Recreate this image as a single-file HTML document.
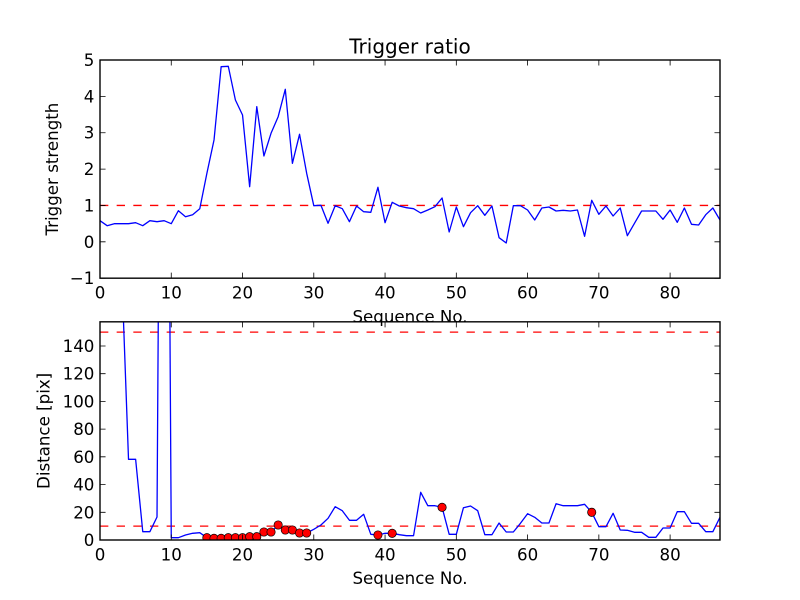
<!DOCTYPE html>
<html><head><meta charset="utf-8"><style>
html,body{margin:0;padding:0;background:#fff;}
svg{display:block;}
text{font-family:"DejaVu Sans","Liberation Sans",sans-serif;fill:#000;}
</style></head><body>
<svg width="800" height="600" viewBox="0 0 800 600" xmlns="http://www.w3.org/2000/svg">
<defs>
<clipPath id="c1"><rect x="100" y="60" width="620" height="218.18"/></clipPath>
<clipPath id="c2"><rect x="100" y="321.82" width="620" height="218.18"/></clipPath>
</defs>
<rect width="800" height="600" fill="#fff"/>

<!-- TOP PLOT -->
<g clip-path="url(#c1)">
<line x1="100" y1="205.45" x2="720" y2="205.45" stroke="#ff0000" stroke-width="1.3" stroke-dasharray="8.33 8.33"/>
<polyline fill="none" stroke="#0000ff" stroke-width="1.3" stroke-linejoin="round" points="100,220.7 107.13,225.7 114.25,223.7 121.38,223.7 128.51,223.7 135.63,222.7 142.76,225.7 149.88,220.7 157.01,221.7 164.14,220.7 171.26,223.7 178.39,210.7 185.52,216.7 192.64,214.7 199.77,208.7 206.9,173.3 214.02,140 221.15,66.7 228.28,66.3 235.4,100 242.53,115 249.65,186.7 256.78,106.7 263.91,156 271.03,133.3 278.16,116.7 285.29,89.3 292.41,163.3 299.54,134.3 306.67,173.3 313.79,205.7 320.92,205.3 328.05,223.3 335.17,205.7 342.3,208.7 349.42,221.7 356.55,206 363.68,211.7 370.8,212.3 377.93,187.3 385.06,222.7 392.18,202.3 399.31,206 406.44,207.7 413.56,208.7 420.69,213 427.81,210 434.94,206.7 442.07,198 449.19,232 456.32,207 463.45,226.7 470.57,212.7 477.7,205.7 484.83,215.3 491.95,206 499.08,237.7 506.21,243 513.33,205.7 520.46,205.7 527.58,210 534.71,220 541.84,208 548.96,207 556.09,211 563.22,210.3 570.34,211 577.47,210 584.6,236.3 591.72,200.3 598.85,214.3 605.97,206 613.1,216 620.23,208 627.35,235.7 634.48,223.3 641.61,211 648.73,211 655.86,211 662.99,219.3 670.11,210 677.24,222.3 684.37,208 691.49,224.3 698.62,225 705.75,214.7 712.87,208 720,220"/>
</g>
<rect x="100" y="60" width="620" height="218.18" fill="none" stroke="#000" stroke-width="1.39"/>
<g stroke="#000" stroke-width="0.8">
<!-- x ticks bottom/top -->
<path d="M100,278.18v-5.56M171.26,278.18v-5.56M242.53,278.18v-5.56M313.79,278.18v-5.56M385.06,278.18v-5.56M456.32,278.18v-5.56M527.58,278.18v-5.56M598.85,278.18v-5.56M670.11,278.18v-5.56"/>
<path d="M100,60v5.56M171.26,60v5.56M242.53,60v5.56M313.79,60v5.56M385.06,60v5.56M456.32,60v5.56M527.58,60v5.56M598.85,60v5.56M670.11,60v5.56"/>
<!-- y ticks left/right -->
<path d="M100,60h5.56M100,96.36h5.56M100,132.73h5.56M100,169.09h5.56M100,205.45h5.56M100,241.82h5.56M100,278.18h5.56"/>
<path d="M720,60h-5.56M720,96.36h-5.56M720,132.73h-5.56M720,169.09h-5.56M720,205.45h-5.56M720,241.82h-5.56M720,278.18h-5.56"/>
</g>
<g font-size="16.67" text-anchor="middle">
<text x="100" y="298.5">0</text>
<text x="171.26" y="298.5">10</text>
<text x="242.53" y="298.5">20</text>
<text x="313.79" y="298.5">30</text>
<text x="385.06" y="298.5">40</text>
<text x="456.32" y="298.5">50</text>
<text x="527.58" y="298.5">60</text>
<text x="598.85" y="298.5">70</text>
<text x="670.11" y="298.5">80</text>
</g>
<g font-size="16.67" text-anchor="end">
<text x="94.4" y="66">5</text>
<text x="94.4" y="102.4">4</text>
<text x="94.4" y="138.7">3</text>
<text x="94.4" y="175.1">2</text>
<text x="94.4" y="211.5">1</text>
<text x="94.4" y="247.8">0</text>
<text x="94.4" y="284.2">−1</text>
</g>
<text x="410" y="53.6" font-size="20" text-anchor="middle">Trigger ratio</text>
<text x="410" y="322.3" font-size="16.67" text-anchor="middle">Sequence No.</text>
<text x="0" y="0" font-size="16.67" text-anchor="middle" transform="translate(58.2,169.1) rotate(-90)">Trigger strength</text>

<!-- BOTTOM PLOT -->
<g clip-path="url(#c2)">
<line x1="100" y1="332.1" x2="720" y2="332.1" stroke="#ff0000" stroke-width="1.3" stroke-dasharray="8.33 8.33"/>
<line x1="100" y1="526.14" x2="720" y2="526.14" stroke="#ff0000" stroke-width="1.3" stroke-dasharray="8.33 8.33"/>
<polyline fill="none" stroke="#0000ff" stroke-width="1.3" stroke-linejoin="round" points="100,200 107.13,200 114.25,200 121.38,263 128.51,459.3 135.63,459.3 142.76,531.7 149.88,531.7 157.01,517 164.14,-600 171.26,537.7 178.39,537.7 185.52,535 192.64,533.3 199.77,532.7 206.9,537.7 214.02,538.3 221.15,538.3 228.28,537.7 235.4,537.7 242.53,537.7 249.65,536.7 256.78,536.7 263.91,532 271.03,532 278.16,525 285.29,530 292.41,530 299.54,533 306.67,533 313.79,529.3 320.92,525 328.05,518.3 335.17,506.7 342.3,510.7 349.42,520.3 356.55,520.3 363.68,514.3 370.8,534.3 377.93,535 385.06,533.3 392.18,533.3 399.31,534.7 406.44,535.7 413.56,535.7 420.69,492.3 427.81,505.7 434.94,505.7 442.07,507.3 449.19,534.3 456.32,534.3 463.45,507.7 470.57,506 477.7,510.7 484.83,534.7 491.95,534.7 499.08,523 506.21,532 513.33,532 520.46,523.3 527.58,513.7 534.71,517.3 541.84,523 548.96,523 556.09,503.7 563.22,505.7 570.34,505.7 577.47,505.7 584.6,504.3 591.72,512.3 598.85,526.7 605.97,526.7 613.1,513.3 620.23,530 627.35,530.3 634.48,532.3 641.61,532.3 648.73,537.3 655.86,537.3 662.99,528 670.11,528 677.24,511.7 684.37,511.7 691.49,523.3 698.62,523.3 705.75,531.7 712.87,531.7 720,517.3"/>
<g fill="#ff0000" stroke="#000" stroke-width="0.7">
<circle cx="206.9" cy="537.7" r="4.17"/>
<circle cx="214.02" cy="538.3" r="4.17"/>
<circle cx="221.15" cy="538.3" r="4.17"/>
<circle cx="228.28" cy="537.7" r="4.17"/>
<circle cx="235.4" cy="537.7" r="4.17"/>
<circle cx="242.53" cy="537.7" r="4.17"/>
<circle cx="249.65" cy="536.7" r="4.17"/>
<circle cx="256.78" cy="536.7" r="4.17"/>
<circle cx="263.91" cy="532" r="4.17"/>
<circle cx="271.03" cy="532" r="4.17"/>
<circle cx="278.16" cy="525" r="4.17"/>
<circle cx="285.29" cy="530" r="4.17"/>
<circle cx="292.41" cy="530" r="4.17"/>
<circle cx="299.54" cy="533" r="4.17"/>
<circle cx="306.67" cy="533" r="4.17"/>
<circle cx="377.93" cy="535" r="4.17"/>
<circle cx="392.18" cy="533.3" r="4.17"/>
<circle cx="442.07" cy="507.3" r="4.17"/>
<circle cx="591.72" cy="512.3" r="4.17"/>
</g>
</g>
<rect x="100" y="321.82" width="620" height="218.18" fill="none" stroke="#000" stroke-width="1.39"/>
<g stroke="#000" stroke-width="0.8">
<path d="M100,540v-5.56M171.26,540v-5.56M242.53,540v-5.56M313.79,540v-5.56M385.06,540v-5.56M456.32,540v-5.56M527.58,540v-5.56M598.85,540v-5.56M670.11,540v-5.56"/>
<path d="M100,321.82v5.56M171.26,321.82v5.56M242.53,321.82v5.56M313.79,321.82v5.56M385.06,321.82v5.56M456.32,321.82v5.56M527.58,321.82v5.56M598.85,321.82v5.56M670.11,321.82v5.56"/>
<path d="M100,540h5.56M100,512.3h5.56M100,484.6h5.56M100,456.8h5.56M100,429.1h5.56M100,401.4h5.56M100,373.7h5.56M100,346h5.56"/>
<path d="M720,540h-5.56M720,512.3h-5.56M720,484.6h-5.56M720,456.8h-5.56M720,429.1h-5.56M720,401.4h-5.56M720,373.7h-5.56M720,346h-5.56"/>
</g>
<g font-size="16.67" text-anchor="middle">
<text x="100" y="560.3">0</text>
<text x="171.26" y="560.3">10</text>
<text x="242.53" y="560.3">20</text>
<text x="313.79" y="560.3">30</text>
<text x="385.06" y="560.3">40</text>
<text x="456.32" y="560.3">50</text>
<text x="527.58" y="560.3">60</text>
<text x="598.85" y="560.3">70</text>
<text x="670.11" y="560.3">80</text>
</g>
<g font-size="16.67" text-anchor="end">
<text x="94.4" y="546">0</text>
<text x="94.4" y="518.3">20</text>
<text x="94.4" y="490.6">40</text>
<text x="94.4" y="462.8">60</text>
<text x="94.4" y="435.1">80</text>
<text x="94.4" y="407.4">100</text>
<text x="94.4" y="379.7">120</text>
<text x="94.4" y="352">140</text>
</g>
<text x="410" y="584.2" font-size="16.67" text-anchor="middle">Sequence No.</text>
<text x="0" y="0" font-size="16.67" text-anchor="middle" transform="translate(49.5,430.9) rotate(-90)">Distance [pix]</text>
</svg>
</body></html>
